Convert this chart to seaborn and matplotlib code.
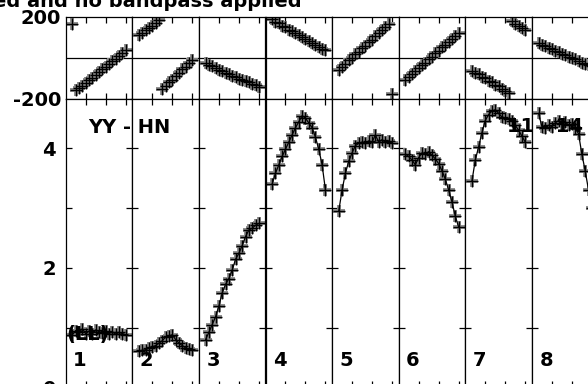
import matplotlib
matplotlib.use("Agg")
import numpy as np
import pandas as pd
import matplotlib.pyplot as plt
import seaborn as sns

# channel grid (same for every IF panel), x range 0..10 per panel
channels = [1.0, 1.5, 2.0, 2.5, 3.0, 3.5, 4.0, 4.5, 5.0, 5.5, 6.0, 6.5, 7.0, 7.5, 8.0, 8.5, 9.0]
if_labels = ["1", "2", "3", "4", "5", "6", "7", "8"]

# phase (degrees)
phase_if1 = [168, -158, -146, -135, -121, -108, -96, -82, -69, -55, -43, -30, -17, -4, 9, 23, 37]
phase_if2 = [110, 121, 135, 145, 158, 170, 186, -150, -137, -119, -105, -88, -73, -56, -43, -26, -12]
phase_if3 = [-26, -36, -41, -50, -57, -63, -71, -77, -86, -91, -100, -105, -114, -119, -128, -133, -143]
phase_if4 = [188, 177, 170, 158, 151, 139, 132, 120, 113, 101, 94, 82, 75, 63, 56, 44, 37]
phase_if5 = [-58, -42, -29, -12, 1, 18, 31, 47, 60, 77, 90, 107, 120, 137, 150, 168, -178]
phase_if6 = [-108, -92, -79, -63, -51, -34, -22, -6, 7, 23, 35, 52, 64, 80, 92, 109, 121]
phase_if7 = [-61, -73, -80, -92, -99, -111, -119, -130, -138, -149, -159, -170, 182, 167, 157, 144, 135]
phase_if8 = [74, 65, 59, 50, 45, 36, 31, 21, 16, 7, 2, -7, -13, -22, -27, -36, -41]

# amplitude
amp_if1 = [0.88, 0.95, 0.92, 0.98, 0.90, 0.94, 0.89, 0.96, 0.93, 0.91, 0.95, 0.90, 0.93, 0.89, 0.92, 0.90, 0.88]
amp_if2 = [0.60, 0.62, 0.63, 0.66, 0.68, 0.70, 0.74, 0.78, 0.84, 0.86, 0.88, 0.80, 0.74, 0.70, 0.66, 0.64, 0.63]
amp_if3 = [0.80, 0.92, 1.05, 1.18, 1.36, 1.58, 1.72, 1.82, 1.96, 2.14, 2.24, 2.37, 2.52, 2.63, 2.66, 2.71, 2.74]
amp_if4 = [3.40, 3.58, 3.72, 3.86, 3.98, 4.10, 4.22, 4.34, 4.44, 4.54, 4.50, 4.42, 4.34, 4.18, 3.98, 3.72, 3.30]
amp_if5 = [2.95, 3.30, 3.58, 3.78, 3.92, 4.04, 4.08, 4.10, 4.08, 4.12, 4.10, 4.22, 4.10, 4.14, 4.10, 4.12, 4.08]
amp_if6 = [3.90, 3.86, 3.80, 3.72, 3.84, 3.92, 3.90, 3.94, 3.88, 3.82, 3.74, 3.62, 3.48, 3.30, 3.10, 2.86, 2.68]
amp_if7 = [3.45, 3.80, 4.02, 4.26, 4.46, 4.56, 4.62, 4.64, 4.58, 4.52, 4.50, 4.48, 4.45, 4.38, 4.30, 4.20, 4.10]
amp_if8 = [4.58, 4.36, 4.34, 4.38, 4.36, 4.42, 4.46, 4.40, 4.44, 4.38, 4.40, 4.34, 4.24, 3.90, 3.62, 3.30, 3.00]

phases = [phase_if1, phase_if2, phase_if3, phase_if4, phase_if5, phase_if6, phase_if7, phase_if8]
amps = [amp_if1, amp_if2, amp_if3, amp_if4, amp_if5, amp_if6, amp_if7, amp_if8]

rows = []
for lab, ph, am in zip(if_labels, phases, amps):
    for c, p, a in zip(channels, ph, am):
        rows.append({"if": lab, "channel": c, "phase": p, "amp": a})
df = pd.DataFrame(rows)

sns.set_style("ticks")
plt.rcParams["font.family"] = ["DejaVu Sans"]
plt.rcParams["axes.linewidth"] = 0.9
for key in ("text.color", "axes.labelcolor", "xtick.color", "ytick.color", "axes.edgecolor"):
    plt.rcParams[key] = "black"

# layout in pixels of the 588x384 canvas
W, H = 588.0, 384.0
X0, PW = 65.7, 66.6
TOP_Y0, TOP_Y1 = 17.0, 99.0
BOT_Y1 = 387.4
FS = 14
MS = 72            # cross size (pt^2)
HALO = "#8c8c8c"


def crosses(ax, sub, col):
    # grey smear under the black crosses, like the original plot
    sns.scatterplot(x="channel", y=col, data=sub, ax=ax, marker="+", s=MS,
                    color=HALO, linewidth=2.8, legend=False, zorder=2)
    sns.scatterplot(x="channel", y=col, data=sub, ax=ax, marker="+", s=MS,
                    color="k", linewidth=1.0, legend=False, zorder=3)


fig = plt.figure(figsize=(5.88, 3.84), dpi=100)

for i, lab in enumerate(if_labels):
    sub = df[df["if"] == lab]
    left = (X0 + i * PW) / W

    ax_t = fig.add_axes([left, (H - TOP_Y1) / H, PW / W, (TOP_Y1 - TOP_Y0) / H])
    ax_b = fig.add_axes([left, (H - BOT_Y1) / H, PW / W, (BOT_Y1 - TOP_Y1) / H])

    # phase strip
    ax_t.axhline(0, color="k", lw=0.9, zorder=1)
    crosses(ax_t, sub, "phase")
    ax_t.set_xlim(0, 10)
    ax_t.set_ylim(-200, 200)
    ax_t.set_yticks([-200, 200])
    ax_t.set_yticklabels(["-200", "200"], fontsize=FS, fontweight="bold")
    ax_t.tick_params(axis="y", length=0, pad=3.4, labelleft=(i == 0))
    ax_t.set_xticks([3, 6, 9])
    ax_t.tick_params(axis="x", direction="in", length=4.5, width=0.9,
                     top=True, bottom=True, labelbottom=False)

    # amplitude strip
    crosses(ax_b, sub, "amp")
    sns.lineplot(x="channel", y="amp", data=sub, ax=ax_b, color="k", lw=0.9,
                 estimator=None, sort=False, zorder=4)
    ax_b.set_xlim(0, 10)
    ax_b.set_ylim(0, 4.82)
    ax_b.set_yticks([0, 1, 2, 3, 4])
    ax_b.set_yticklabels(["0", "", "2", "", "4"], fontsize=FS, fontweight="bold")
    ax_b.tick_params(axis="y", direction="in", length=4.5, width=0.9,
                     left=True, right=True, pad=7, labelleft=(i == 0))
    ax_b.set_xticks([3, 6, 9])
    ax_b.tick_params(axis="x", direction="in", length=4.5, width=0.9,
                     top=True, bottom=True, labelbottom=False)

    for ax in (ax_t, ax_b):
        ax.set_xlabel("")
        ax.set_ylabel("")
        for sp in ax.spines.values():
            sp.set_visible(True)
            sp.set_color("k")

    ax_b.text((X0 + i * PW + 7.5) / W, 1 - 366 / H, lab, transform=fig.transFigure,
              fontsize=FS, fontweight="bold", va="baseline", ha="left",
              color="k", zorder=6)

fig.text(-7 / W, 1 - 7 / H, "ed and no bandpass applied", fontsize=FS,
         fontweight="bold", va="baseline", ha="left", color="k")
fig.text(88.5 / W, 1 - 132.7 / H, "YY - HN", fontsize=FS, fontweight="bold",
         va="baseline", ha="left", color="k", zorder=10)
fig.text(507 / W, 1 - 132 / H, "11 - 14", fontsize=FS, fontweight="bold",
         va="baseline", ha="left", color="k", zorder=10)
fig.text(66 / W, 1 - 340 / H, "(LL)", fontsize=FS, fontweight="bold",
         va="baseline", ha="left", color="k", zorder=10)

fig.savefig("out.png", dpi=100)
plt.close(fig)
